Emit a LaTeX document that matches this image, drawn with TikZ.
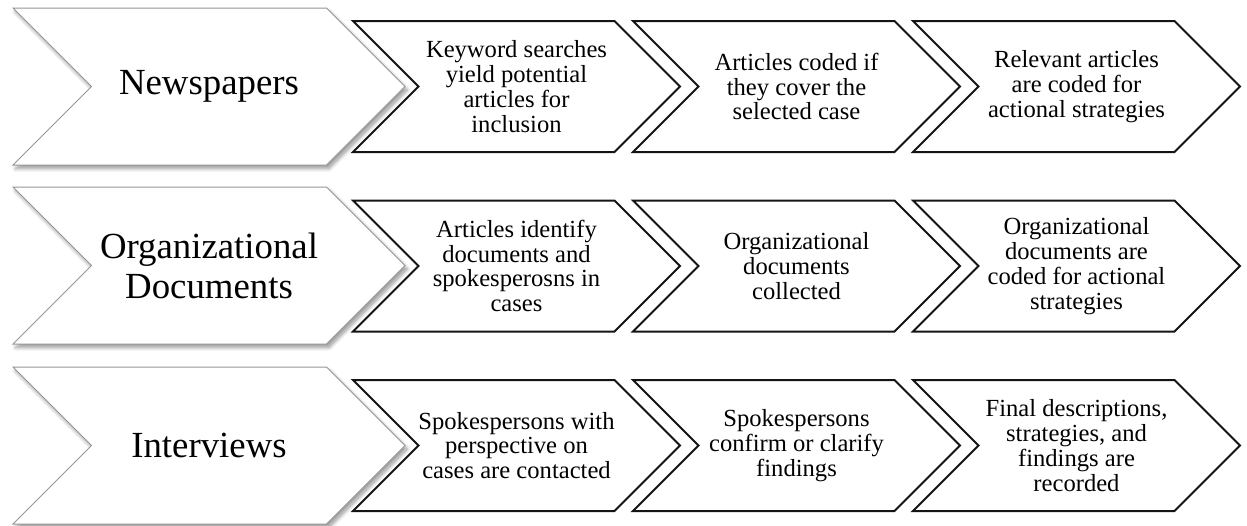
\documentclass[tikz,border=0pt]{standalone}
\usepackage{fontspec}
\setmainfont{Liberation Serif}
\usepackage{tikz}
\usetikzlibrary{shapes.symbols,shadows,shadows.blur,positioning}
\usepackage{xcolor}
\definecolor{srcgray}{RGB}{150,150,150}
\definecolor{steplines}{RGB}{20,20,20}
\tikzstyle{sourcebox} = [signal, signal from=west, signal to=east, signal pointer angle=90, minimum width=196pt, minimum height=78.5pt, inner sep=0pt, draw=srcgray, line width=0.5pt, fill=white, blur shadow={shadow xshift=1.2pt, shadow yshift=-1.8pt, shadow blur steps=6, shadow opacity=40}, align=center, font=\fontsize{18.4}{20}\selectfont]
\tikzstyle{stepbox} = [signal, signal from=west, signal to=east, signal pointer angle=90, minimum width=163.5pt, minimum height=65.5pt, inner sep=0pt, draw=steplines, line width=1pt, fill=white, align=center, font=\fontsize{12.3}{12.4}\selectfont]

\begin{document}
\begin{tikzpicture}[x=0.5pt,y=-0.5pt]
\useasboundingbox (0,0) rectangle (1247,525);

% Newspapers
\node[sourcebox] (news) at (209,86.5) {Newspapers};
\node[stepbox] (news1) at (516.5,86.5) {Keyword searches\\yield potential\\articles for\\inclusion};
\node[stepbox] (news2) at (796.5,86.5) {Articles coded if\\they cover the\\selected case};
\node[stepbox] (news3) at (1076.5,86.5) {Relevant articles\\are coded for\\actional strategies};

% Organizational documents
\node[sourcebox] (docs) at (209,265.5) {Organizational\\Documents};
\node[stepbox] (docs1) at (516.5,266) {Articles identify\\documents and\\spokesperosns in\\cases};
\node[stepbox] (docs2) at (796.5,266) {Organizational\\documents\\collected};
\node[stepbox] (docs3) at (1076.5,266) {Organizational\\documents are\\coded for actional\\strategies};

% Interviews
\node[sourcebox] (inter) at (209,445.5) {Interviews};
\node[stepbox] (inter1) at (516.5,445.5) {Spokespersons with\\perspective on\\cases are contacted};
\node[stepbox] (inter2) at (796.5,445.5) {Spokespersons\\confirm or clarify\\findings};
\node[stepbox] (inter3) at (1076.5,445.5) {Final descriptions,\\strategies, and\\findings are\\recorded};
\end{tikzpicture}
\end{document}
